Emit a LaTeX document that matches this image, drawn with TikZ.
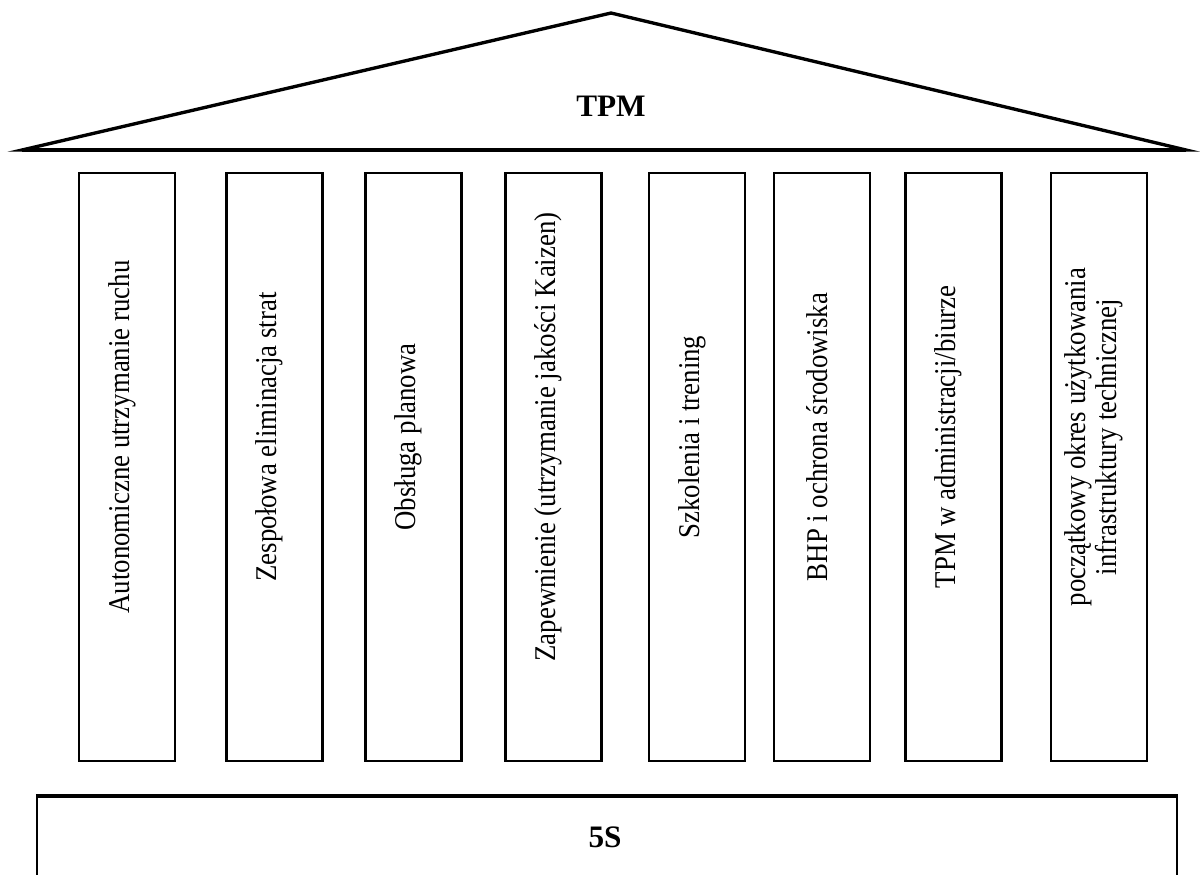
\documentclass[tikz,border=0pt]{standalone}
\usepackage{fontspec}
\setmainfont{Liberation Serif}
\newfontfamily\pillarfont[FakeStretch=0.89]{Liberation Serif}

\tikzset{
  roof/.style={line width=1.5pt, line join=miter},
  eave/.style={line width=2pt},
  pillar/.style={draw, line width=1pt, inner sep=0pt,
    minimum width=96*0.01574cm, minimum height=588*0.01574cm},
  pillartext/.style={rotate=90, inner sep=0pt, align=center,
    font=\pillarfont\fontsize{13.5}{14}\selectfont},
  basebox/.style={draw, line width=1pt, inner sep=0pt,
    minimum width=1140*0.01574cm, minimum height=94*0.01574cm},
  label/.style={font=\fontsize{14}{16}\selectfont\bfseries, inner sep=0pt}
}

\begin{document}
\begin{tikzpicture}[x=0.01574cm, y=-0.01574cm]
\useasboundingbox (0,0) rectangle (1200,874);
\clip (0,0) rectangle (1200,874);

% roof
\coordinate (eaveL) at (22,150);
\coordinate (eaveR) at (1186,150);
\coordinate (apex) at (611,13);
\draw[roof] (eaveL) -- (apex) -- (eaveR) -- cycle;
\draw[eave] (eaveL) -- (eaveR);
\node[label] (tpm) at (611,106) {TPM};

% pillars
\foreach \cx/\name/\txt in {
    127/p1/{Autonomiczne utrzymanie ruchu},
    274.5/p2/{Zespołowa eliminacja strat},
    413.5/p3/{Obsługa planowa},
    553.5/p4/{Zapewnienie (utrzymanie jakości Kaizen)},
    697/p5/{Szkolenia i trening},
    822/p6/{BHP i ochrona środowiska},
    953.5/p7/{TPM w administracji/biurze},
    1099/p8/{początkowy okres użytkowania\\infrastruktury technicznej}}
{
  \node[pillar] (\name) at (\cx,467) {};
  \node[pillartext] (\name-t) at (\cx-5,437) {\txt};
}

% base
\node[basebox] (base) at (607,844) {};
\draw[eave] (base.north west) -- (base.north east);
\node[label] (fives) at (605,837) {5S};
\end{tikzpicture}
\end{document}
